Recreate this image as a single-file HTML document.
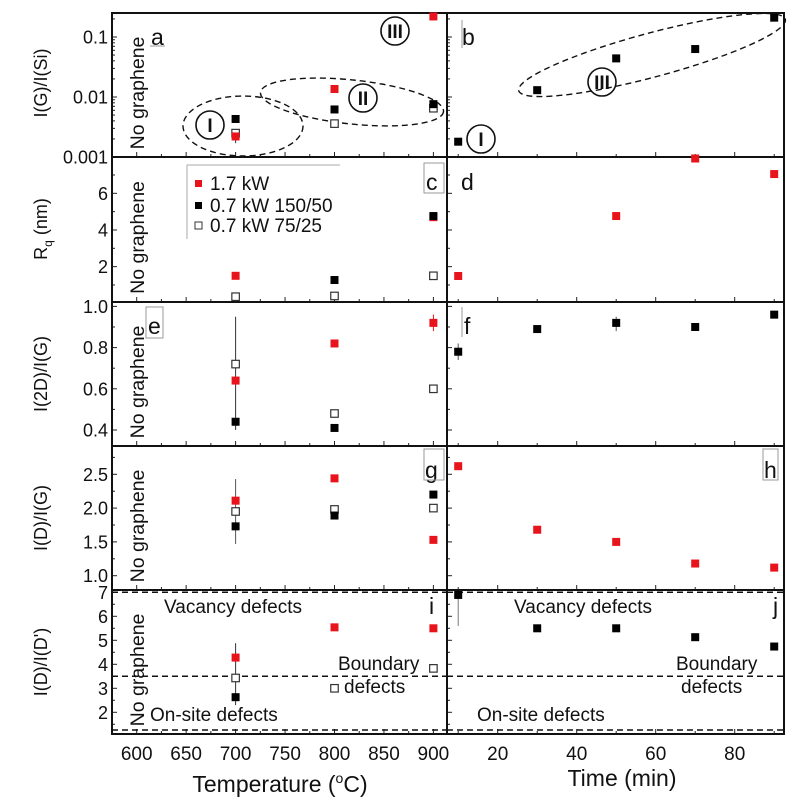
<!DOCTYPE html>
<html><head><meta charset="utf-8">
<style>
html,body{margin:0;padding:0;background:#fff;}
svg{display:block;font-family:"Liberation Sans",Arial,sans-serif;}
</style></head>
<body>
<svg id="chart" width="800" height="798" viewBox="0 0 800 798" xmlns="http://www.w3.org/2000/svg"></svg>
<script>
// ---- data ----
const temps = [700, 800, 900];
const times = [10, 30, 50, 70, 90];
// panel a: I(G)/I(Si)
const aRed = [0.0022, 0.0136, 0.22];
const aBlack = [0.0043, 0.0062, 0.0076];
const aOpen = [0.0025, 0.0036, 0.0065];
const bBlack = [0.0018, 0.013, 0.044, 0.063, 0.21];
// panel c/d: Rq
const cRed = [1.5, null, 4.7];
const cBlack = [null, 1.27, 4.76];
const cOpen = [0.36, 0.4, 1.5];
const dRed = [1.49, null, 4.76, 7.9, 7.05];
// panel e/f: I(2D)/I(G)
const eRed = [0.64, 0.82, 0.92];
const eBlack = [0.44, 0.41, 0.6];
const eOpen = [0.72, 0.48, 0.60];
const fBlack = [0.78, 0.89, 0.92, 0.90, 0.96];
// panel g/h: I(D)/I(G)
const gRed = [2.11, 2.44, 1.53];
const gBlack = [1.73, 1.89, 2.2];
const gOpen = [1.95, 1.98, 2.0];
const hRed = [2.62, 1.68, 1.5, 1.18, 1.12];
// panel i/j: I(D)/I(D')
const iRed = [4.28, 5.54, 5.5];
const iBlack = [2.63, null, null];
const iOpen = [3.43, 3.0, 3.83];
const jBlack = [6.89, 5.5, 5.5, 5.13, 4.74];
const defectLines = [7.0, 3.5, 1.26];
// tick labels
const aTicks = [0.001, 0.01, 0.1];
const aTickLabels = ["0.001", "0.01", "0.1"];
const cTicks = [2, 4, 6];
const eTicks = [0.4, 0.6, 0.8, 1.0];
const eTickLabels = ["0.4", "0.6", "0.8", "1.0"];
const gTicks = [1.0, 1.5, 2.0, 2.5];
const gTickLabels = ["1.0", "1.5", "2.0", "2.5"];
const iTicks = [2, 3, 4, 5, 6, 7];
const tempTicks = [600, 650, 700, 750, 800, 850, 900];
const timeTicks = [20, 40, 60, 80];

const svg = document.getElementById('chart');
const NS = 'http://www.w3.org/2000/svg';
function mk(tag, attrs, parent) {
  const e = document.createElementNS(NS, tag);
  for (const k in attrs) e.setAttribute(k, attrs[k]);
  (parent || svg).appendChild(e);
  return e;
}
const LX0 = 112, LX1 = 447, RX0 = 447, RX1 = 784;
const rows = [13, 157, 302, 446, 590, 734];
function xT(t) { return 136.7 + (t - 600) * 0.989; }
function xM(m) { return 418.7 + m * 3.95; }
function linY(v0, y0, pxPer) { return v => y0 - (v - v0) * pxPer; }
const yA = v => 157 - (Math.log10(v) + 3) * 60;
const yC = linY(0, 303.3, 18.33);
const yE = linY(0.4, 430, 206);
const yG = linY(1.0, 575.7, 67.6);
const yI = linY(2, 712.3, 24);

function marker(x, y, kind, name) {
  const s = kind === 'open' ? 7.5 : 8;
  const r = mk('rect', {x: x - s/2, y: y - s/2, width: s, height: s,
    fill: kind === 'red' ? '#e8141c' : kind === 'black' ? '#000' : '#fff',
    stroke: kind === 'open' ? '#333' : 'none', 'stroke-width': 1.2});
  
  
}
function errbar(x, y1, y2, color) {
  const l = mk('line', {x1: x, x2: x, y1: y1, y2: y2, stroke: color, 'stroke-width': 1});
  
  
}
function series(xs, vals, xf, yf, kind, name, top, bot) {
  vals.forEach((v, i) => {
    if (v === null) return;
    const y = yf(v);
    if (y < top - 4 || y > bot + 4) return;
    marker(xf(xs[i]), y, kind, name + '-' + i);
  });
}
function text(x, y, s, size, opts, name) {
  const t = mk('text', Object.assign({x: x, y: y, 'font-size': size, fill: '#111'}, opts || {}));
  t.textContent = s;
  
  
  return t;
}

// x ticks for each row
for (let r = 0; r < 5; r++) {
  const yb = rows[r+1];
  for (let t = 575; t <= 914; t += 25) {
    const x = xT(t); if (x < LX0 + 1 || x > LX1 - 1) continue;
    const major = t % 50 === 0;
    mk('line', {x1: x, x2: x, y1: yb, y2: yb - (major ? 5 : 3), stroke: '#222', 'stroke-width': 1});
  }
  for (let m = 10; m <= 90; m += 10) {
    const x = xM(m); const major = m % 20 === 0;
    mk('line', {x1: x, x2: x, y1: yb, y2: yb - (major ? 5 : 3), stroke: '#222', 'stroke-width': 1});
  }
}
// y ticks helper
function yticks(vals, yf, labels, top, bot, minor) {
  vals.forEach((v, i) => {
    const y = yf(v);
    mk('line', {x1: LX0, x2: LX0 + 5, y1: y, y2: y, stroke: '#222'});
    mk('line', {x1: RX0, x2: RX0 + 5, y1: y, y2: y, stroke: '#222'});
    if (labels) text(108, y + 6.5, labels[i], 18, {'text-anchor': 'end'}, 'y-tick-label');
  });
  (minor || []).forEach(v => {
    const y = yf(v); if (y < top || y > bot) return;
    mk('line', {x1: LX0, x2: LX0 + 3, y1: y, y2: y, stroke: '#222'});
    mk('line', {x1: RX0, x2: RX0 + 3, y1: y, y2: y, stroke: '#222'});
  });
}
const logMinor = [];
for (let d = -3; d <= -1; d++) for (let k = 2; k <= 9; k++) logMinor.push(k * Math.pow(10, d));
yticks(aTicks, yA, aTickLabels, rows[0], rows[1], logMinor);
yticks(cTicks, yC, cTicks.map(String), rows[1], rows[2], [1, 3, 5, 7]);
yticks(eTicks, yE, eTickLabels, rows[2], rows[3], [0.5, 0.7, 0.9]);
yticks(gTicks, yG, gTickLabels, rows[3], rows[4], [1.25, 1.75, 2.25, 2.75]);
yticks(iTicks, yI, iTicks.map(String), rows[4], rows[5], [1.5, 2.5, 3.5, 4.5, 5.5, 6.5]);

// frames
mk('rect', {x: LX0, y: rows[0], width: RX1 - LX0, height: rows[5] - rows[0], fill: 'none', stroke: '#111', 'stroke-width': 2,  });
mk('line', {x1: LX1, x2: LX1, y1: rows[0], y2: rows[5], stroke: '#111', 'stroke-width': 2});
for (let r = 1; r < 5; r++) mk('line', {x1: LX0, x2: RX1, y1: rows[r], y2: rows[r], stroke: '#111', 'stroke-width': 2});

// x tick labels
tempTicks.forEach(t => text(xT(t), 760, String(t), 19, {'text-anchor': 'middle'}, 'x-tick-label-temperature'));
timeTicks.forEach(t => text(xM(t), 760, String(t), 19, {'text-anchor': 'middle'}, 'x-tick-label-time'));
const xt1 = text(280, 792, '', 23, {'text-anchor': 'middle'}, 'x-axis-title-temperature');
const ts1 = mk('tspan', {}, xt1); ts1.textContent = 'Temperature (';
const ts2 = mk('tspan', {dy: -9, 'font-size': 14}, xt1); ts2.textContent = 'o';
const ts3 = mk('tspan', {dy: 9}, xt1); ts3.textContent = 'C)';
text(622, 786, 'Time (min)', 23, {'text-anchor': 'middle'}, 'x-axis-title-time');

// y titles
const yTitles = [['I(G)/I(Si)', 83], ['R_q (nm)', 229], ['I(2D)/I(G)', 374], ['I(D)/I(G)', 518], ["I(D)/I(D')", 662]];
yTitles.forEach(([s, cy], i) => {
  const t = text(0, 0, '', 18, {'text-anchor': 'middle', transform: `translate(47,${cy}) rotate(-90)`}, 'y-axis-title');
  if (i === 1) {
    const a = mk('tspan', {}, t); a.textContent = 'R';
    const b = mk('tspan', {dy: 5, 'font-size': 12}, t); b.textContent = 'q';
    const c = mk('tspan', {dy: -5}, t); c.textContent = ' (nm)';
  } else t.textContent = s;
});
// No graphene labels
for (let r = 0; r < 5; r++) {
  const cy = (rows[r] + rows[r+1]) / 2 + 8;
  text(0, 0, 'No graphene', 19.5, {'text-anchor': 'middle', transform: `translate(144,${cy}) rotate(-90)`}, 'no-graphene-label');
}

// defect lines
[0, 1].forEach(side => {
  defectLines.forEach(v => {
    const l = mk('line', {x1: side ? RX0 : LX0, x2: side ? RX1 : LX1, y1: yI(v), y2: yI(v), stroke: '#111', 'stroke-width': 1.5, 'stroke-dasharray': '6,4'});
    
    
  });
});
text(164, 613, 'Vacancy defects', 19, {}, 'vacancy-defects-label');
text(338, 670, 'Boundary', 19, {}, 'boundary-label');
text(344, 693, 'defects', 19, {}, 'boundary-defects-label');
text(150, 721, 'On-site defects', 19, {}, 'on-site-defects-label');
text(514, 613, 'Vacancy defects', 19, {}, 'vacancy-defects-label-right');
text(676, 670, 'Boundary', 19, {}, 'boundary-label-right');
text(681, 693, 'defects', 19, {}, 'boundary-defects-label-right');
text(477, 721, 'On-site defects', 19, {}, 'on-site-defects-label-right');

// ellipses and region circles
const dash = {fill: 'none', stroke: '#111', 'stroke-width': 1.4, 'stroke-dasharray': '6,4'};
mk('ellipse', Object.assign({cx: 243, cy: 126, rx: 60, ry: 30,  }, dash));
mk('ellipse', Object.assign({cx: 352, cy: 102, rx: 92, ry: 22, transform: 'rotate(6 352 102)',  }, dash));
mk('ellipse', Object.assign({cx: 652, cy: 55, rx: 138, ry: 22, transform: 'rotate(-15 652 55)',  }, dash));
function circLabel(cx, cy, s, name) {
  mk('circle', {cx: cx, cy: cy, r: 14, fill: 'none', stroke: '#111', 'stroke-width': 1.6});
  text(cx, cy + 7, s, 19, {'text-anchor': 'middle', 'font-weight': 'bold'}, name);
}
circLabel(210, 125, 'I', 'region-i-label');
circLabel(363, 98, 'II', 'region-ii-label');
circLabel(395, 31, 'III', 'region-iii-label');
circLabel(602, 82, 'III', 'region-iii-label-b');
circLabel(481, 139, 'I', 'region-i-label-b');

// panel letters
const letters = [['a', 151, 45], ['b', 462, 45], ['c', 426, 190], ['d', 461, 190], ['e', 148, 334], ['f', 464, 334], ['g', 425, 478], ['h', 764, 478], ['i', 429, 614], ['j', 773, 614]];
letters.forEach(([s, x, y]) => text(x, y, s, 23, {}, 'panel-label-' + s));
mk('line', {x1: 150, x2: 165, y1: 46, y2: 46, stroke: '#999'});
mk('rect', {x: 424, y: 163, width: 20, height: 30, fill: 'none', stroke: '#999'});
mk('rect', {x: 146, y: 307, width: 17, height: 31, fill: 'none', stroke: '#999'});
mk('rect', {x: 424, y: 449, width: 20, height: 31, fill: 'none', stroke: '#999'});
mk('line', {x1: 462, x2: 462, y1: 20, y2: 48, stroke: '#999'});
mk('line', {x1: 462, x2: 462, y1: 307, y2: 337, stroke: '#999'});
mk('rect', {x: 763, y: 449, width: 15, height: 31, fill: 'none', stroke: '#999'});

// error bars
errbar(xT(700), yE(0.95), yE(0.40), '#333');
errbar(xT(900), yE(0.96), yE(0.88), '#e8141c');
errbar(xT(700), yG(2.43), yG(1.47), '#555');
errbar(xT(700), yI(4.88), yI(2.3), '#333');
errbar(xM(10), yI(6.9), yI(5.6), '#777');
errbar(xM(10), yE(0.82), yE(0.74), '#555');
errbar(xM(50), yE(0.95), yE(0.88), '#555');
errbar(xT(700), yA(0.0028), yA(0.0017), '#333');

// data series
const P = [
  [temps, aOpen, xT, yA, 'open', 'a-open', 0], [temps, aBlack, xT, yA, 'black', 'a-black', 0], [temps, aRed, xT, yA, 'red', 'a-red', 0],
  [times, bBlack, xM, yA, 'black', 'b-black', 0],
  [temps, cRed, xT, yC, 'red', 'c-red', 1], [temps, cBlack, xT, yC, 'black', 'c-black', 1], [temps, cOpen, xT, yC, 'open', 'c-open', 1],
  [times, dRed, xM, yC, 'red', 'd-red', 1],
  [temps, eBlack, xT, yE, 'black', 'e-black', 2], [temps, eRed, xT, yE, 'red', 'e-red', 2], [temps, eOpen, xT, yE, 'open', 'e-open', 2],
  [times, fBlack, xM, yE, 'black', 'f-black', 2],
  [temps, gRed, xT, yG, 'red', 'g-red', 3], [temps, gOpen, xT, yG, 'open', 'g-open', 3], [temps, gBlack, xT, yG, 'black', 'g-black', 3],
  [times, hRed, xM, yG, 'red', 'h-red', 3],
  [temps, iRed, xT, yI, 'red', 'i-red', 4], [temps, iBlack, xT, yI, 'black', 'i-black', 4], [temps, iOpen, xT, yI, 'open', 'i-open', 4],
  [times, jBlack, xM, yI, 'black', 'j-black', 4]
];
P.forEach(p => series(p[0], p[1], p[2], p[3], p[4], p[5], rows[p[6]], rows[p[6]+1]));

// legend
const lg = mk('g', { });
mk('line', {x1: 187, x2: 340, y1: 165, y2: 165, stroke: '#aaa'}, lg);
mk('line', {x1: 187, x2: 187, y1: 165, y2: 239, stroke: '#aaa'}, lg);
[['red', '1.7 kW', 190], ['black', '0.7 kW 150/50', 212], ['open', '0.7 kW 75/25', 232]].forEach(([k, s, y], i) => {
  const m = mk('rect', {x: 195, y: y - 10, width: 7, height: 7, fill: k === 'red' ? '#e8141c' : k === 'black' ? '#000' : '#fff', stroke: k === 'open' ? '#333' : 'none'}, lg);
  
  
  text(210, y, s, 19, {}, 'legend-entry');
});
</script>
</body></html>
